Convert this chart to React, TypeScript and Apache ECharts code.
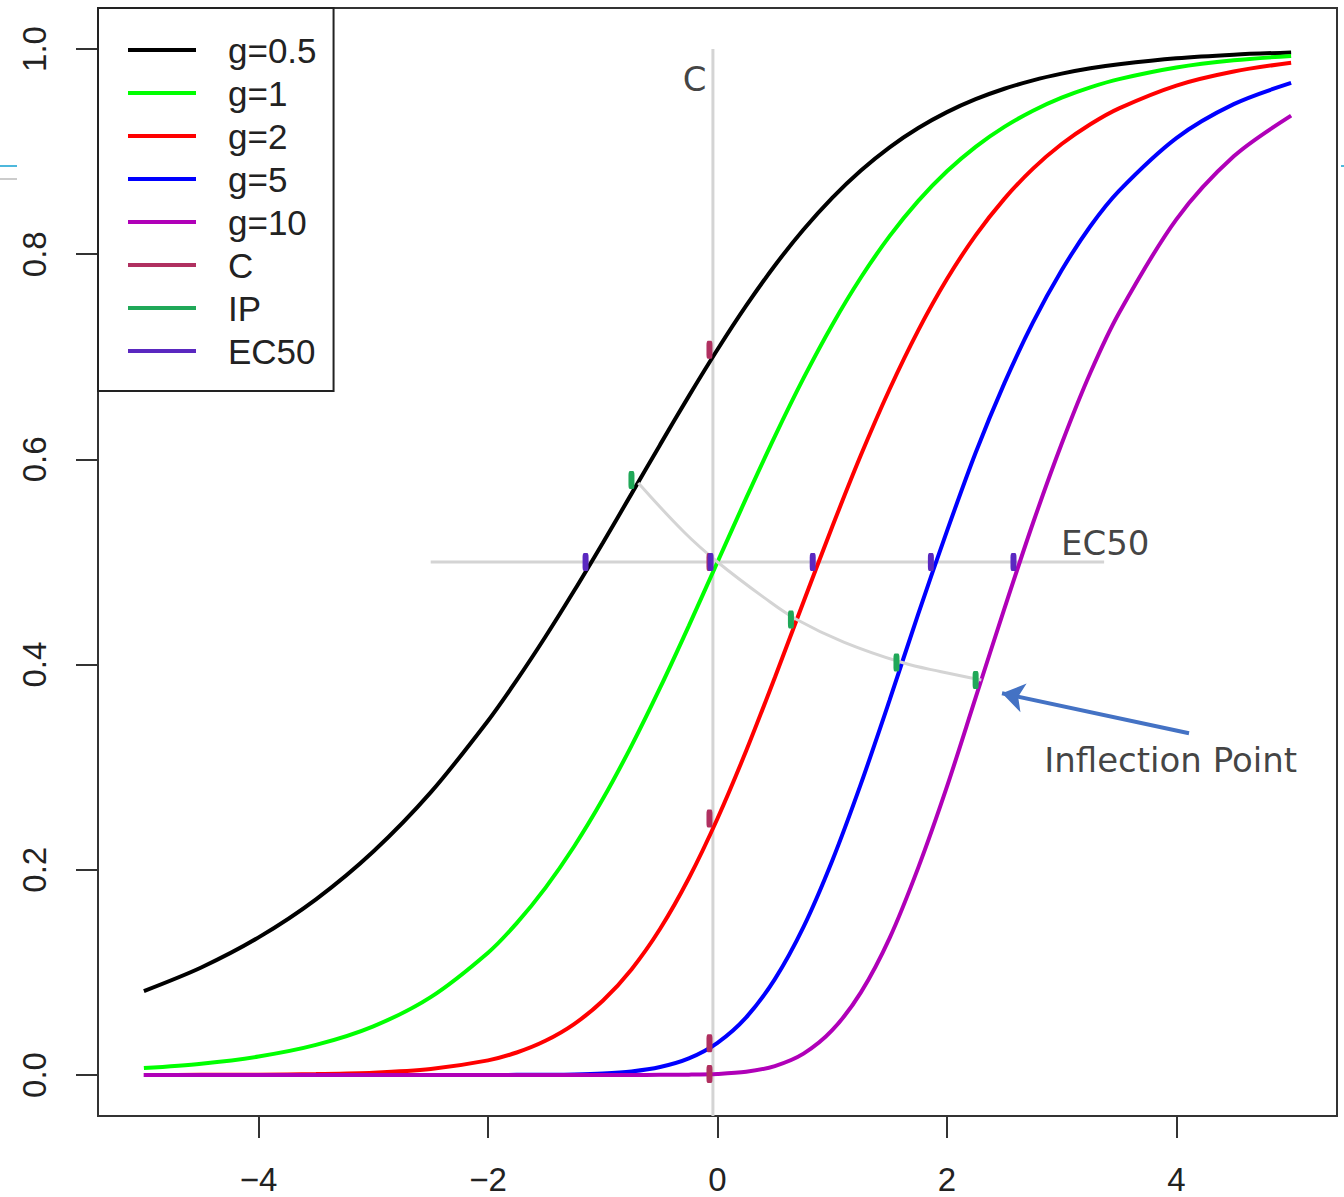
import React, { useEffect, useRef } from "react";
import * as echarts from "echarts";

// x grid of the curves
const xs = [-5, -4.5, -4, -3.5, -3, -2.5, -2, -1.75, -1.5, -1.25, -1, -0.75, -0.5, -0.25, 0, 0.25, 0.5, 0.75, 1, 1.25, 1.5, 1.75, 2, 2.25, 2.5, 2.75, 3, 3.25, 3.5, 4, 4.5, 5];
const g05 = [0.0818, 0.1048, 0.1341, 0.1712, 0.2178, 0.2754, 0.3453, 0.3848, 0.4271, 0.4719, 0.5186, 0.5664, 0.6144, 0.6617, 0.7071, 0.7498, 0.789, 0.8241, 0.855, 0.8816, 0.9042, 0.923, 0.9385, 0.9511, 0.9613, 0.9695, 0.976, 0.9812, 0.9852, 0.991, 0.9945, 0.9967];
const g1 = [0.0067, 0.011, 0.018, 0.0293, 0.0474, 0.0759, 0.1192, 0.148, 0.1824, 0.2227, 0.2689, 0.3208, 0.3775, 0.4378, 0.5, 0.5622, 0.6225, 0.6792, 0.7311, 0.7773, 0.8176, 0.852, 0.8808, 0.9047, 0.9241, 0.9399, 0.9526, 0.9627, 0.9707, 0.982, 0.989, 0.9933];
const g2 = [0.0, 0.0001, 0.0003, 0.0009, 0.0022, 0.0058, 0.0142, 0.0219, 0.0333, 0.0496, 0.0723, 0.1029, 0.1425, 0.1917, 0.25, 0.316, 0.3875, 0.4613, 0.5344, 0.6042, 0.6684, 0.7258, 0.7758, 0.8184, 0.854, 0.8834, 0.9074, 0.9267, 0.9422, 0.9644, 0.9781, 0.9867];
const g5 = [0, 0, 0, 0, 0, 0, 0, 0.0001, 0.0002, 0.0005, 0.0014, 0.0034, 0.0077, 0.0161, 0.0313, 0.0561, 0.0934, 0.1443, 0.2088, 0.2837, 0.3653, 0.4495, 0.5301, 0.6065, 0.6741, 0.7335, 0.7843, 0.8273, 0.8618, 0.9132, 0.9463, 0.967];
const g10 = [0, 0, 0, 0, 0, 0, 0, 0, 0, 0, 0, 0, 0.0001, 0.0003, 0.001, 0.0031, 0.0087, 0.0208, 0.0436, 0.0805, 0.1334, 0.2021, 0.281, 0.3678, 0.4543, 0.538, 0.6152, 0.6844, 0.7427, 0.834, 0.8954, 0.9351];

const seriesNames = ["g=0.5", "g=1", "g=2", "g=5", "g=10"];
const seriesColors = ["#000000", "#00ff00", "#ff0000", "#0000ff", "#b000b8"];

// marker positions
const cMarkX = [-0.07, -0.07, -0.07, -0.07, -0.07];
const cMarkY = [0.707, 0.5, 0.25, 0.031, 0.001];
const ipMarkX = [-0.75, 0.64, 1.56, 2.25];
const ipMarkY = [0.58, 0.444, 0.402, 0.385];
const ec50X = [-1.15, -0.06, 0.83, 1.86, 2.58];
const ec50Y = [0.5, 0.5, 0.5, 0.5, 0.5];

// reference lines
const cLineX = [-0.04, -0.04];
const cLineY = [-0.04, 1.0];
const ec50LineX = [-2.5, 3.37];
const ec50LineY = [0.5, 0.5];
const ipCurveX = [-0.69, -0.29, 0, 0.41, 0.69, 1.1, 1.61, 1.95, 2.3];
const ipCurveY = [0.577, 0.529, 0.5, 0.465, 0.444, 0.422, 0.402, 0.393, 0.385];

// annotations
const noteX = [-0.2, 3.38, 3.95];
const noteY = [0.971, 0.519, 0.307];
const noteText = ["C", "EC50", "Inflection Point"];
const arrowFrom = [4.11, 0.333];
const arrowTo = [2.48, 0.372];

const xTicks = [-4, -2, 0, 2, 4];
const yTicks = [0, 0.2, 0.4, 0.6, 0.8, 1.0];

const zip = (a: number[], b: number[]) => a.map((v, i) => [v, b[i]]);

export default function App() {
  const ref = useRef<HTMLDivElement>(null);
  useEffect(() => {
    if (!ref.current) return;
    const chart = echarts.init(ref.current, null, { renderer: "svg" });
    const gray = "#d4d4d4";
    const curves = [g05, g1, g2, g5, g10].map((ys, i) => ({
      name: seriesNames[i],
      type: "line",
      data: zip(xs, ys),
      showSymbol: false,
      symbol: "none",
      smooth: 0.3,
      lineStyle: { color: seriesColors[i], width: 4 },
      itemStyle: { color: seriesColors[i] },
      z: 3,
    }));
    const markerSeries = (name: string, color: string, xsArr: number[], ysArr: number[]) => ({
      name,
      type: "scatter",
      data: zip(xsArr, ysArr),
      symbol: "roundRect",
      symbolSize: [6, 18],
      itemStyle: { color, opacity: 1 },
      z: 5,
    });
    chart.setOption({
      animation: false,
      backgroundColor: "#ffffff",
      grid: {
        left: 98,
        top: 8,
        right: 7,
        bottom: 81,
        show: true,
        borderColor: "#333333",
        borderWidth: 2,
        backgroundColor: "transparent",
      },
      xAxis: {
        type: "value",
        min: -5.4,
        max: 5.4,
        axisLine: { show: false, onZero: false },
        splitLine: { show: false },
        axisTick: {
          show: true,
          customValues: xTicks,
          length: 22,
          lineStyle: { color: "#333333", width: 2 },
        },
        axisLabel: {
          customValues: xTicks,
          fontSize: 33,
          fontFamily: "Liberation Sans, Arial, sans-serif",
          color: "#222222",
          margin: 47,
          formatter: (v: number) => (v < 0 ? "\u2212" + Math.abs(v) : String(v)),
        },
      },
      yAxis: {
        type: "value",
        min: -0.04,
        max: 1.04,
        axisLine: { show: false, onZero: false },
        splitLine: { show: false },
        axisTick: {
          show: true,
          customValues: yTicks,
          length: 22,
          lineStyle: { color: "#333333", width: 2 },
        },
        axisLabel: {
          customValues: yTicks,
          rotate: 90,
          fontSize: 33,
          fontFamily: "Liberation Sans, Arial, sans-serif",
          color: "#222222",
          margin: 47,
          formatter: (v: number) => v.toFixed(1),
        },
      },
      legend: {
        orient: "vertical",
        left: 98,
        top: 8,
        data: ["g=0.5", "g=1", "g=2", "g=5", "g=10", "C", "IP", "EC50"],
        icon: "rect",
        itemWidth: 68,
        itemHeight: 4,
        itemGap: 7,
        padding: [24, 17, 22, 30],
        borderColor: "#222222",
        borderWidth: 2,
        backgroundColor: "#ffffff",
        textStyle: {
          fontSize: 35,
          lineHeight: 36,
          fontFamily: "Liberation Sans, Arial, sans-serif",
          color: "#222222",
          padding: [0, 0, 0, 27],
        },
        selectedMode: false,
      },
      graphic: [
        { type: "line", shape: { x1: 0, y1: 166, x2: 17, y2: 166 }, style: { stroke: "#4db8dc", lineWidth: 2 } },
        { type: "line", shape: { x1: 0, y1: 179, x2: 17, y2: 179 }, style: { stroke: "#cccccc", lineWidth: 2 } },
        { type: "line", shape: { x1: 1341, y1: 166, x2: 1344, y2: 166 }, style: { stroke: "#4db8dc", lineWidth: 2 } },
      ],
      series: [
        {
          name: "cLine",
          type: "line",
          data: zip(cLineX, cLineY),
          symbol: "none",
          lineStyle: { color: gray, width: 3 },
          z: 1,
        },
        {
          name: "ec50Line",
          type: "line",
          data: zip(ec50LineX, ec50LineY),
          symbol: "none",
          lineStyle: { color: gray, width: 3 },
          z: 1,
        },
        {
          name: "ipCurve",
          type: "line",
          data: zip(ipCurveX, ipCurveY),
          symbol: "none",
          smooth: 0.4,
          lineStyle: { color: gray, width: 3 },
          z: 4,
        },
        ...curves,
        markerSeries("C", "#b03060", cMarkX, cMarkY),
        markerSeries("IP", "#20a858", ipMarkX, ipMarkY),
        markerSeries("EC50", "#5a28c0", ec50X, ec50Y),
        {
          name: "notes",
          type: "scatter",
          data: noteX.map((x, i) => [x, noteY[i], noteText[i]]),
          symbolSize: 0,
          itemStyle: { color: "transparent" },
          label: {
            show: true,
            position: "inside",
            formatter: (p: any) => p.value[2],
            fontSize: 34,
            fontFamily: "DejaVu Sans, Verdana, sans-serif",
            color: "#111111",
          },
          markLine: {
            silent: true,
            symbol: ["none", "arrow"],
            symbolSize: 22,
            label: { show: false },
            lineStyle: { color: "#4472c4", width: 4, type: "solid" },
            itemStyle: { color: "#4472c4" },
            data: [[{ coord: arrowFrom }, { coord: arrowTo }]],
          },
          z: 6,
        },
      ],
    });
    return () => chart.dispose();
  }, []);
  return (
    <div
      ref={ref}
      style={{ position: "fixed", left: 0, top: 0, width: 1344, height: 1197, background: "#ffffff" }}
    />
  );
}
